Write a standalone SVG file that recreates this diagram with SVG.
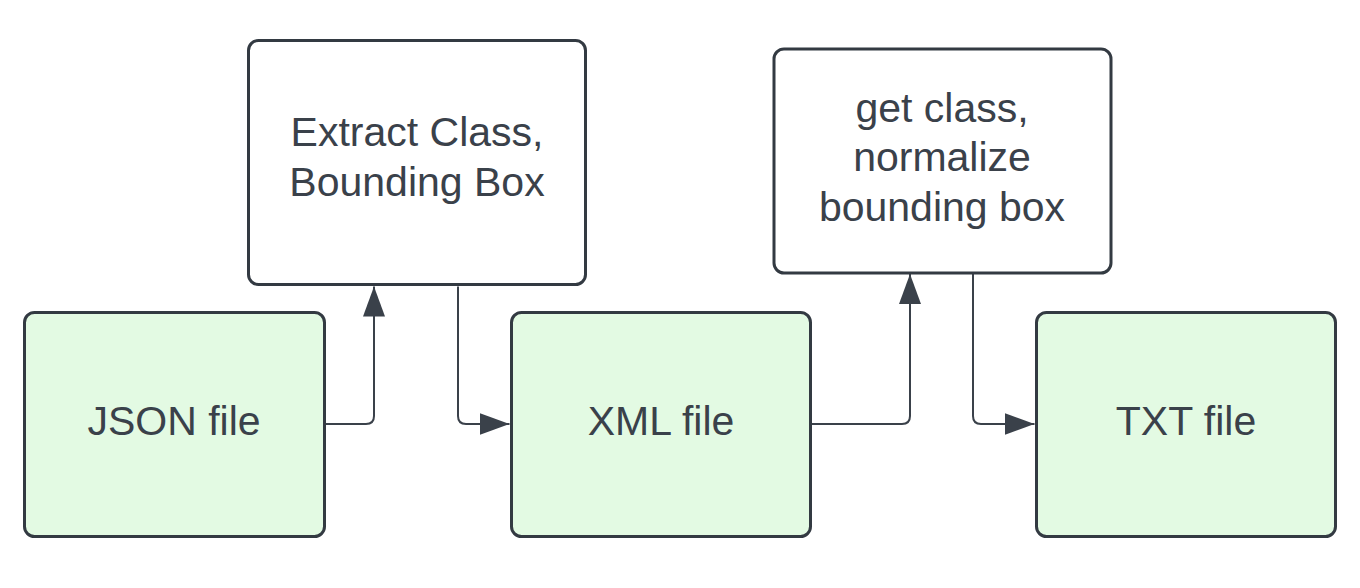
<svg xmlns="http://www.w3.org/2000/svg" width="1360" height="588" viewBox="0 0 1360 588">
<style>
.box{fill:#ffffff;stroke:#333a42;stroke-width:3}
.data{fill:#e3fae3;stroke:#333a42;stroke-width:3}
.lbl{font-family:"Liberation Sans",Arial,sans-serif;font-size:41px;fill:#3a414a;text-anchor:middle}
.conn{fill:none;stroke:#3a414a;stroke-width:2}
</style>
<defs>
<marker id="arr" markerUnits="userSpaceOnUse" markerWidth="32" markerHeight="24" refX="30" refY="11" orient="auto">
<path d="M0,0 L30,11 L0,22 Z" fill="#3a414a"/>
</marker>
</defs>
<rect width="1360" height="588" fill="#ffffff"/>
<g id="connectors">
<path class="conn" d="M325,424 H366 Q374,424 374,416 V286.5" marker-end="url(#arr)"/>
<path class="conn" d="M458,286.5 V416 Q458,424 466,424 H509.5" marker-end="url(#arr)"/>
<path class="conn" d="M811,424 H902 Q910,424 910,416 V274" marker-end="url(#arr)"/>
<path class="conn" d="M973,274 V416 Q973,424 981,424 H1034.5" marker-end="url(#arr)"/>
</g>
<g id="extract">
<rect class="box" x="248.5" y="40.5" width="337" height="244" rx="10"/>
<text class="lbl" x="417" y="146">Extract Class,</text>
<text class="lbl" x="417" y="196">Bounding Box</text>
</g>
<g id="normalize">
<rect class="box" x="774" y="49" width="337" height="224" rx="10"/>
<text class="lbl" x="942" y="122">get class,</text>
<text class="lbl" x="942" y="171">normalize</text>
<text class="lbl" x="942" y="221">bounding box</text>
</g>
<g id="json">
<rect class="data" x="24.5" y="312.5" width="300" height="224" rx="10"/>
<text class="lbl" x="174" y="435">JSON file</text>
</g>
<g id="xml">
<rect class="data" x="511.5" y="312.5" width="299" height="224" rx="10"/>
<text class="lbl" x="661" y="435">XML file</text>
</g>
<g id="txt">
<rect class="data" x="1036.5" y="312.5" width="299" height="224" rx="10"/>
<text class="lbl" x="1186" y="435">TXT file</text>
</g>
</svg>
